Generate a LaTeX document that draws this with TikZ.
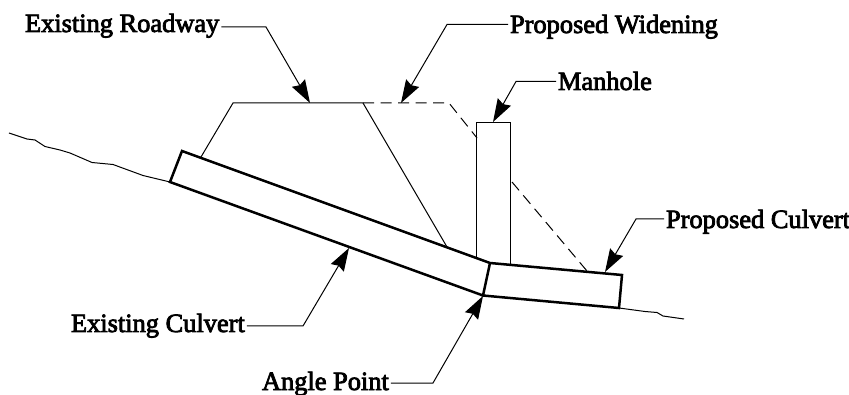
\documentclass[tikz,border=0pt]{standalone}
\usepackage{fontspec}
\setmainfont[FakeBold=3]{Liberation Serif}
\usetikzlibrary{arrows.meta}
\tikzset{
  lbl/.style={anchor=base west,inner sep=0pt,outer sep=2pt,font=\fontsize{26.4}{28}\selectfont},
  leader/.style={line width=1pt,-{Stealth[length=23pt,width=15pt,inset=2.5pt]}},
  thinline/.style={line width=1pt,line join=miter},
  culvert/.style={line width=2.5pt,line join=miter},
  hidden/.style={line width=1pt,dash pattern=on 11pt off 6.5pt},
  ground/.style={line width=1pt,line join=round}
}
\begin{document}
\begin{tikzpicture}[x=1pt,y=-1pt]
\useasboundingbox (0,0) rectangle (849,395);
% culvert corners
\coordinate (eTL) at (182,151);
\coordinate (eBL) at (170,182);
\coordinate (jT) at (490,263);
\coordinate (jB) at (483,295.5);
\coordinate (pTR) at (622,275);
\coordinate (pBR) at (619,308);
% roadway
\coordinate (rL) at (233,103);
\coordinate (rR) at (363,103);
\coordinate (wR) at (449,103);
\draw[thinline] (201,157) -- (rL) -- (rR) -- (447,247);
\draw[hidden] (rR) -- (wR) -- (477,138);
\draw[hidden] (512,182) -- (587,271);
% manhole
\draw[thinline] (476.5,258) -- (476.5,123) -- (510,123) -- (510,264.5);
% ground
\draw[ground] (9,133) -- (27,139) -- (35,140) -- (45,146.5) -- (60,150) -- (70,153) -- (92,162.5) -- (113,164.5) -- (143,175.5) -- (eBL);
\draw[ground] (pBR) -- (645,311.5) -- (657,312.5) -- (663,316) -- (684,319);
% culverts
\draw[culvert] (jB) -- (eBL) -- (eTL) -- (jT) -- (jB) -- (pBR) -- (pTR) -- (jT);
% labels
\node[lbl] (er) at (23,32) {Existing Roadway};
\node[lbl] (pw) at (508,33) {Proposed Widening};
\node[lbl] (mh) at (556,90) {Manhole};
\node[lbl] (pc) at (664,228) {Proposed Culvert};
\node[lbl] (ec) at (69,332) {Existing Culvert};
\node[lbl] (ap) at (260,390) {Angle Point};
% leaders
\coordinate (erE) at (266,27);   \coordinate (erT) at (310,103);
\coordinate (pwE) at (447,24.5); \coordinate (pwT) at (401,103);
\coordinate (mhE) at (516,81.5); \coordinate (mhT) at (493,122);
\coordinate (pcE) at (636,219);  \coordinate (pcT) at (605,272);
\coordinate (ecE) at (303,326);  \coordinate (ecT) at (349,248);
\coordinate (apE) at (433,383);  \coordinate (apT) at (483,296);
\draw[leader] (er.east |- erE) -- (erE) -- (erT);
\draw[leader] (pw.west |- pwE) -- (pwE) -- (pwT);
\draw[leader] (mh.west |- mhE) -- (mhE) -- (mhT);
\draw[leader] (pc.west |- pcE) -- (pcE) -- (pcT);
\draw[leader] (ec.east |- ecE) -- (ecE) -- (ecT);
\draw[leader] (ap.east |- apE) -- (apE) -- (apT);
\end{tikzpicture}
\end{document}
